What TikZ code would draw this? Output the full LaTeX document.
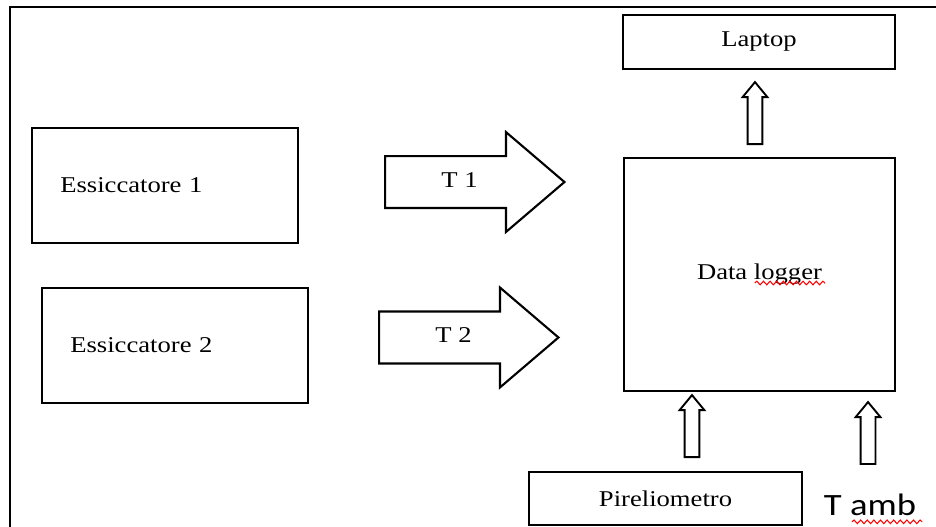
\documentclass[tikz,border=0pt]{standalone}
\usepackage{fontspec}
\setmainfont{Liberation Serif}[FakeStretch=1.18]
\newfontfamily\tambfont{Carlito}[FakeStretch=1.18]
\usetikzlibrary{shapes.arrows,decorations.pathmorphing}

\begin{document}
\begin{tikzpicture}[
  font=\fontsize{10.7}{13}\selectfont,
  box/.style={draw,line width=1pt,align=center,inner sep=3pt},
  ess/.style={box,minimum width=44.33mm,minimum height=19.17mm,text width=34.9mm,align=left,inner xsep=4.67mm},
  bigarr/.style={draw,line width=1pt,single arrow,minimum height=29.9mm,minimum width=16.33mm,
    single arrow head extend=4mm,single arrow tip angle=81,text height=2.5mm,text depth=0.8mm,
    inner xsep=0pt,inner ysep=2.5mm,anchor=tail},
  uparr/.style={draw,line width=0.9pt,single arrow,shape border rotate=90,minimum height=10.33mm,
    minimum width=3.83mm,single arrow head extend=0.83mm,single arrow tip angle=79,inner sep=1.08mm,anchor=tail},
  squig/.style={red,line width=0.5pt,decorate,decoration={snake,amplitude=0.3mm,segment length=1.1mm}}
]
\useasboundingbox (0,0) rectangle (15.6,8.767);

% ---------------- outer frame (cut by the page on the right and below)
\draw[line width=1pt] (0.167,-0.5) |- (16,8.65);

% ---------------- left: the two dryers
\node[ess] (ess1) at (2.75,5.675) {Essiccatore 1};
\node[ess] (ess2) at (2.917,3.008) {Essiccatore 2};

% ---------------- temperature signals
\node[bigarr] (t1) at (6.4,5.733) {T 1};
\node[bigarr] (t2) at (6.3,3.142) {T 2};

% ---------------- right: logger, laptop, sensors
\node[box,minimum width=45.17mm,minimum height=38.83mm] (logger) at (12.658,4.192) {Data logger};
\node[box,minimum width=45.33mm,minimum height=9mm] (laptop) at (12.65,8.067) {Laptop};
\node[box,minimum width=45.5mm,minimum height=8.83mm] (pirel) at (11.092,0.458) {Pireliometro};
\node[anchor=base,inner sep=0pt,font=\tambfont\fontsize{14.7}{16}\selectfont] (tamb) at (14.5,0.183) {T amb};

% ---------------- hollow up arrows
\node[uparr] (a1) at (12.583,6.35) {};
\node[uparr] (a2) at (11.533,1.133) {};
\node[uparr] (a3) at (14.467,1.017) {};

% spell-check marks
\draw[squig] (12.58,4.05) -- (13.75,4.05);
\draw[squig] (14.2,0.07) -- (15.37,0.07);
\end{tikzpicture}
\end{document}
